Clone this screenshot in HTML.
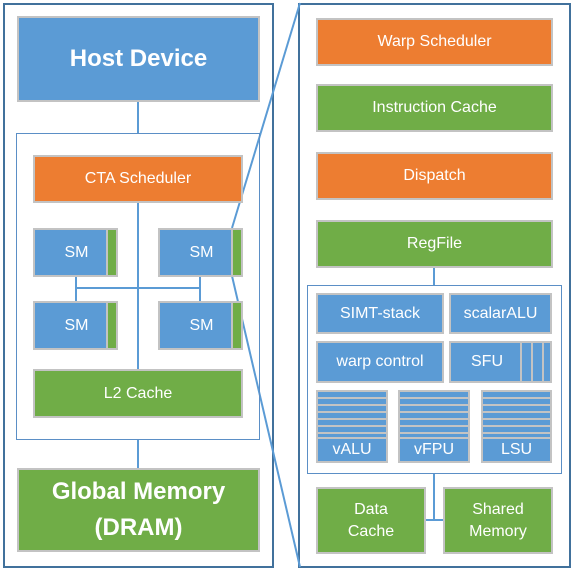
<!DOCTYPE html>
<html><head><style>
body{margin:0;width:573px;height:570px;background:#fff;position:relative;overflow:hidden;font-family:"Liberation Sans",sans-serif}
.b{position:absolute;box-sizing:border-box;border:2px solid #c3c3c3;color:#fff;display:flex;align-items:center;justify-content:center;text-align:center;font-size:16px;line-height:22px}
.bl{background:#5b9bd5}.or{background:#ed7d31}.gr{background:#70ad47}
.f{position:absolute;box-sizing:border-box;border:2px solid #41719c}
.t{position:absolute;box-sizing:border-box;border:1.5px solid #5b8fc6}
.st{background:repeating-linear-gradient(#5b9bd5 0 5px,#c3c3c3 5px 7px)}
.sm{padding-left:12px}
</style></head><body>
<div class="f" style="left:3px;top:3px;width:271px;height:565px"></div>
<div class="f" style="left:298px;top:3px;width:273px;height:565px"></div>
<svg style="position:absolute;left:0;top:0" width="573" height="570">
<g stroke="#5b9bd5" stroke-width="2" fill="none">
<line x1="232" y1="228" x2="300" y2="3"/>
<line x1="232" y1="276" x2="300" y2="567"/>
<line x1="138" y1="101" x2="138" y2="133"/>
<line x1="138" y1="202" x2="138" y2="370"/>
<line x1="76" y1="288" x2="200" y2="288"/>
<line x1="76" y1="276" x2="76" y2="301"/>
<line x1="200" y1="276" x2="200" y2="301"/>
<line x1="138" y1="439" x2="138" y2="468"/>
<line x1="434" y1="267" x2="434" y2="285"/>
<line x1="434" y1="473" x2="434" y2="520"/>
<line x1="425" y1="520" x2="443" y2="520"/>
</g></svg>
<div class="t" style="left:16px;top:133px;width:244px;height:307px"></div>
<div class="t" style="left:307px;top:285px;width:255px;height:189px"></div>
<div class="b bl" style="left:17px;top:16px;width:243px;height:86px;font-size:24px;font-weight:bold">Host Device</div>
<div class="b or" style="left:33px;top:155px;width:210px;height:48px">CTA Scheduler</div>
<div class="b bl sm" style="left:33px;top:228px;width:75px;height:49px">SM</div><div class="b gr" style="left:106px;top:228px;width:12px;height:49px"></div>
<div class="b bl sm" style="left:158px;top:228px;width:75px;height:49px">SM</div><div class="b gr" style="left:231px;top:228px;width:12px;height:49px"></div>
<div class="b bl sm" style="left:33px;top:301px;width:75px;height:49px">SM</div><div class="b gr" style="left:106px;top:301px;width:12px;height:49px"></div>
<div class="b bl sm" style="left:158px;top:301px;width:75px;height:49px">SM</div><div class="b gr" style="left:231px;top:301px;width:12px;height:49px"></div>
<div class="b gr" style="left:33px;top:369px;width:210px;height:49px">L2 Cache</div>
<div class="b gr" style="left:17px;top:468px;width:243px;height:84px;font-size:24px;font-weight:bold;line-height:36px">Global Memory<br>(DRAM)</div>
<div class="b or" style="left:316px;top:18px;width:237px;height:48px">Warp Scheduler</div>
<div class="b gr" style="left:316px;top:84px;width:237px;height:48px">Instruction Cache</div>
<div class="b or" style="left:316px;top:152px;width:237px;height:48px">Dispatch</div>
<div class="b gr" style="left:316px;top:220px;width:237px;height:48px">RegFile</div>
<div class="b bl" style="left:316px;top:293px;width:128px;height:41px">SIMT-stack</div>
<div class="b bl" style="left:449px;top:293px;width:103px;height:41px">scalarALU</div>
<div class="b bl" style="left:316px;top:341px;width:128px;height:42px">warp control</div>
<div class="b bl" style="left:449px;top:341px;width:103px;height:42px;justify-content:flex-start;padding-left:20px">SFU</div>
<div class="b bl" style="left:520px;top:341px;width:13px;height:42px"></div>
<div class="b bl" style="left:531px;top:341px;width:13px;height:42px"></div>
<div class="b bl" style="left:542px;top:341px;width:10px;height:42px"></div>
<div class="b st" style="left:316px;top:390px;width:72px;height:73px;align-items:flex-end"><span style="background:#5b9bd5;width:100%;border-top:2px solid #c3c3c3">vALU</span></div>
<div class="b st" style="left:398px;top:390px;width:72px;height:73px;align-items:flex-end"><span style="background:#5b9bd5;width:100%;border-top:2px solid #c3c3c3">vFPU</span></div>
<div class="b st" style="left:481px;top:390px;width:71px;height:73px;align-items:flex-end"><span style="background:#5b9bd5;width:100%;border-top:2px solid #c3c3c3">LSU</span></div>
<div class="b gr" style="left:316px;top:487px;width:110px;height:67px">Data<br>Cache</div>
<div class="b gr" style="left:443px;top:487px;width:110px;height:67px">Shared<br>Memory</div>
</body></html>
